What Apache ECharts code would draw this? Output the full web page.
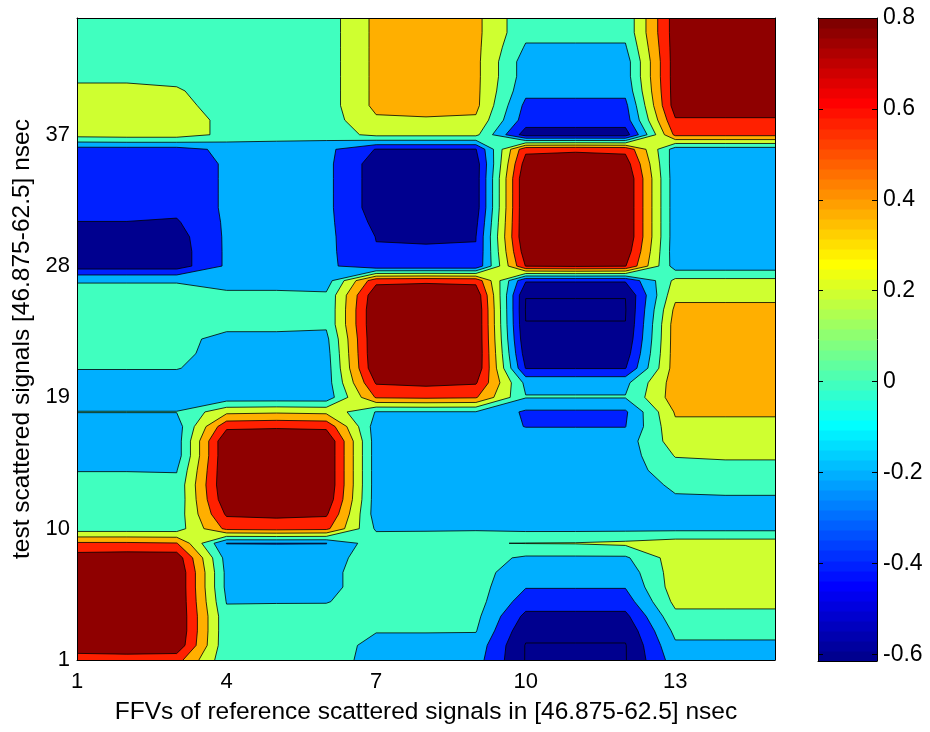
<!DOCTYPE html>
<html>
<head>
<meta charset="utf-8">
<script src="https://cdn.jsdelivr.net/npm/echarts@6/dist/echarts.min.js"></script>
<style>
  html, body { margin: 0; padding: 0; background: #ffffff; }
  #chart { width: 930px; height: 732px; }
</style>
</head>
<body>
<div id="chart"></div>
<script>
// Column index: FFVs of the reference scattered signals
const ffvIndex = [1, 2, 3, 4, 5, 6, 7, 8, 9, 10, 11, 12, 13, 14, 15];
// Row index: test scattered signals
const testIndex = [1, 2, 3, 4, 5, 6, 7, 8, 9, 10, 11, 12, 13, 14, 15, 16, 17, 18, 19, 20, 21, 22,
  23, 24, 25, 26, 27, 28, 29, 30, 31, 32, 33, 34, 35, 36, 37, 38, 39, 40, 41, 42, 43, 44, 45];

const xTickValues = [1, 4, 7, 10, 13];
const yTickValues = [1, 10, 19, 28, 37];
const contourLevels = [-0.6, -0.4, -0.2, 0, 0.2, 0.4, 0.6, 0.8];
const colorbarTicks = [-0.6, -0.4, -0.2, 0, 0.2, 0.4, 0.6, 0.8];
const colorbarRange = [-0.615, 0.8];

// Correlation values, one row per test signal (1 at the bottom), one column per FFV
const rows01to09 = [
  [0.70, 0.70, 0.68, 0.05, 0.08, 0.10, -0.08, -0.08, -0.12, -0.61, -0.61, -0.61, -0.10, -0.10, -0.10],
  [0.92, 0.95, 0.95, 0.05, 0.08, 0.10, -0.06, -0.06, -0.08, -0.61, -0.61, -0.61, -0.03, -0.03, -0.03],
  [0.95, 0.98, 0.99, 0.05, 0.08, 0.10, 0.01, 0.01, 0.01, -0.55, -0.55, -0.55, 0.05, 0.05, 0.05],
  [0.95, 0.98, 0.99, 0.05, 0.07, 0.08, 0.08, 0.08, 0.05, -0.45, -0.45, -0.45, 0.15, 0.15, 0.15],
  [0.95, 0.98, 0.99, -0.01, -0.01, -0.01, 0.10, 0.10, 0.08, -0.30, -0.30, -0.30, 0.25, 0.25, 0.25],
  [0.95, 0.98, 0.99, -0.05, -0.10, -0.05, 0.10, 0.10, 0.08, -0.19, -0.19, -0.19, 0.30, 0.30, 0.30],
  [0.95, 0.98, 0.99, -0.05, -0.10, -0.05, 0.10, 0.10, 0.08, -0.12, -0.12, -0.12, 0.30, 0.30, 0.30],
  [0.90, 0.92, 0.92, -0.08, -0.12, -0.08, 0.10, 0.10, 0.08, -0.03, -0.03, -0.03, 0.30, 0.30, 0.30],
  [0.63, 0.63, 0.61, -0.205, -0.205, -0.205, 0.12, 0.14, 0.19, 0.205, 0.21, 0.24, 0.30, 0.30, 0.30]
];
const rows10to18 = [
  [0.10, 0.10, 0.10, 0.65, 0.67, 0.65, -0.03, -0.03, -0.03, -0.05, -0.05, -0.05, -0.05, -0.05, -0.05],
  [0.08, 0.08, 0.08, 0.83, 0.85, 0.83, -0.10, -0.10, -0.10, -0.10, -0.10, -0.10, -0.08, -0.08, -0.08],
  [0.05, 0.05, 0.05, 0.95, 0.97, 0.95, -0.10, -0.10, -0.10, -0.10, -0.10, -0.10, -0.02, -0.02, -0.02],
  [0.05, 0.05, 0.05, 0.99, 0.99, 0.99, -0.10, -0.10, -0.10, -0.10, -0.10, -0.10, 0.03, 0.05, 0.05],
  [-0.005, -0.005, -0.01, 0.99, 0.99, 0.99, -0.10, -0.10, -0.10, -0.10, -0.10, -0.10, 0.12, 0.15, 0.15],
  [-0.10, -0.10, -0.10, 0.99, 0.99, 0.99, -0.10, -0.10, -0.10, -0.10, -0.10, -0.10, 0.21, 0.22, 0.22],
  [-0.10, -0.10, -0.10, 0.99, 0.99, 0.99, -0.10, -0.10, -0.10, -0.10, -0.10, -0.10, 0.30, 0.30, 0.30],
  [-0.10, -0.10, -0.10, 0.75, 0.77, 0.75, -0.10, -0.10, -0.10, -0.205, -0.205, -0.205, 0.36, 0.36, 0.36],
  [0.005, 0.005, 0.005, 0.35, 0.37, 0.35, -0.01, -0.01, -0.01, -0.23, -0.23, -0.23, 0.42, 0.42, 0.42]
];
const rows19to27 = [
  [-0.10, -0.10, -0.10, -0.12, -0.12, -0.12, 0.62, 0.64, 0.62, 0.01, 0.01, 0.01, 0.50, 0.50, 0.50],
  [-0.10, -0.10, -0.10, -0.10, -0.10, -0.10, 0.82, 0.85, 0.82, -0.05, -0.05, -0.05, 0.50, 0.50, 0.50],
  [0.01, 0.01, 0.01, -0.10, -0.10, -0.10, 0.97, 0.99, 0.97, -0.41, -0.41, -0.41, 0.50, 0.50, 0.50],
  [0.05, 0.05, 0.05, -0.08, -0.08, -0.08, 0.99, 0.99, 0.99, -0.50, -0.50, -0.50, 0.50, 0.50, 0.50],
  [0.05, 0.05, 0.05, -0.05, -0.05, -0.05, 0.99, 0.99, 0.99, -0.56, -0.56, -0.56, 0.50, 0.50, 0.50],
  [0.05, 0.05, 0.05, 0.05, 0.05, 0.03, 0.99, 0.99, 0.99, -0.597, -0.597, -0.597, 0.50, 0.50, 0.50],
  [0.05, 0.05, 0.05, 0.05, 0.05, 0.03, 0.99, 0.99, 0.99, -0.61, -0.61, -0.61, 0.45, 0.45, 0.45],
  [0.05, 0.05, 0.05, 0.05, 0.05, 0.03, 0.95, 0.97, 0.95, -0.597, -0.597, -0.597, 0.35, 0.35, 0.35],
  [-0.01, -0.01, -0.01, -0.10, -0.10, -0.10, 0.74, 0.76, 0.74, -0.38, -0.38, -0.38, 0.25, 0.25, 0.25]
];
const rows28to36 = [
  [-0.50, -0.50, -0.50, -0.17, -0.15, -0.15, -0.36, -0.36, -0.36, 0.81, 0.83, 0.81, -0.10, -0.10, -0.10],
  [-0.48, -0.48, -0.50, -0.17, -0.15, -0.15, -0.39, -0.39, -0.39, 0.92, 0.94, 0.92, -0.12, -0.12, -0.12],
  [-0.45, -0.45, -0.48, -0.17, -0.15, -0.15, -0.405, -0.41, -0.405, 0.99, 0.99, 0.99, -0.12, -0.12, -0.12],
  [-0.403, -0.403, -0.42, -0.17, -0.15, -0.15, -0.45, -0.47, -0.45, 0.99, 0.99, 0.99, -0.12, -0.12, -0.12],
  [-0.35, -0.35, -0.35, -0.17, -0.15, -0.15, -0.50, -0.52, -0.50, 0.99, 0.99, 0.99, -0.12, -0.12, -0.12],
  [-0.35, -0.35, -0.35, -0.17, -0.15, -0.15, -0.50, -0.52, -0.50, 0.99, 0.99, 0.99, -0.12, -0.12, -0.12],
  [-0.35, -0.35, -0.35, -0.17, -0.15, -0.15, -0.50, -0.52, -0.50, 0.99, 0.99, 0.99, -0.12, -0.12, -0.12],
  [-0.35, -0.35, -0.35, -0.17, -0.15, -0.15, -0.50, -0.52, -0.50, 0.90, 0.92, 0.90, -0.12, -0.12, -0.12],
  [-0.28, -0.28, -0.28, -0.15, -0.15, -0.15, -0.41, -0.41, -0.41, 0.75, 0.77, 0.75, -0.10, -0.10, -0.10]
];
const rows37to45 = [
  [0.28, 0.30, 0.30, 0.15, 0.12, 0.10, 0.25, 0.25, 0.25, -0.50, -0.50, -0.50, 0.65, 0.65, 0.65],
  [0.28, 0.30, 0.30, 0.15, 0.12, 0.10, 0.37, 0.38, 0.37, -0.30, -0.30, -0.30, 0.78, 0.78, 0.78],
  [0.28, 0.28, 0.27, 0.10, 0.10, 0.10, 0.45, 0.47, 0.45, -0.25, -0.25, -0.25, 0.90, 0.90, 0.90],
  [0.26, 0.26, 0.22, 0.10, 0.10, 0.10, 0.45, 0.47, 0.45, -0.15, -0.15, -0.15, 0.90, 0.90, 0.90],
  [0.15, 0.15, 0.15, 0.10, 0.10, 0.10, 0.45, 0.47, 0.45, -0.10, -0.10, -0.10, 0.90, 0.90, 0.90],
  [0.10, 0.10, 0.10, 0.10, 0.10, 0.10, 0.45, 0.47, 0.45, -0.10, -0.10, -0.10, 0.90, 0.90, 0.90],
  [0.10, 0.10, 0.10, 0.10, 0.10, 0.10, 0.45, 0.47, 0.45, -0.02, -0.02, -0.02, 0.90, 0.90, 0.90],
  [0.10, 0.10, 0.10, 0.10, 0.10, 0.10, 0.45, 0.47, 0.45, 0.05, 0.05, 0.05, 0.90, 0.90, 0.90],
  [0.10, 0.10, 0.10, 0.10, 0.10, 0.10, 0.45, 0.47, 0.45, 0.05, 0.05, 0.05, 0.90, 0.90, 0.90]
];

// field[row][col]
const field = [].concat(rows01to09, rows10to18, rows19to27, rows28to36, rows37to45);

// Fill colour of each band: below the first level, then at/above each level
const bandColors = ['#00008F', '#00008F', '#0020FF', '#00AFFF', '#40FFBF',
                    '#CFFF30', '#FFAF00', '#FF2000', '#8F0000'];

const FONT = '"Liberation Sans", Arial, Helvetica, sans-serif';

// MATLAB-style jet colormap with 64 entries (k = 1..64)
function jetColor(k) {
  const u = i => (i <= 16 ? i / 16 : (i <= 31 ? 1 : (48 - i) / 16));
  const r = k >= 25 ? u(k - 24) : 0;
  const g = (k >= 9 && k <= 55) ? u(k - 8) : 0;
  const b = k <= 39 ? u(k + 8) : 0;
  const h = v => Math.round(v * 255);
  return 'rgb(' + h(r) + ',' + h(g) + ',' + h(b) + ')';
}

// Pixel position of every grid node, via the axes of the chart
function nodePixels(api) {
  const pix = [];
  for (let j = 0; j < testIndex.length; j++) {
    const row = [];
    for (let i = 0; i < ffvIndex.length; i++) row.push(api.coord([ffvIndex[i], testIndex[j]]));
    pix.push(row);
  }
  return pix;
}

// Region {v >= level} inside one grid cell (linear along the edges) and the
// iso-line segments bounding it. Saddle cells are resolved with the cell-centre mean.
function cellPieces(j, i, level, pix) {
  const corners = [[j, i], [j, i + 1], [j + 1, i + 1], [j + 1, i]];
  const vals = corners.map(c => field[c[0]][c[1]]);
  const pts = corners.map(c => pix[c[0]][c[1]]);
  const high = vals.map(v => v >= level);
  const edgeCross = [null, null, null, null];
  const walk = [];
  for (let k = 0; k < 4; k++) {
    const k2 = (k + 1) % 4;
    if (high[k]) walk.push(pts[k]);
    if (high[k] !== high[k2]) {
      const t = (level - vals[k]) / (vals[k2] - vals[k]);
      const p = [pts[k][0] + t * (pts[k2][0] - pts[k][0]), pts[k][1] + t * (pts[k2][1] - pts[k][1])];
      edgeCross[k] = p;
      walk.push(p);
    }
  }
  const nCross = edgeCross.filter(p => p).length;
  const polys = [];
  const segs = [];
  if (nCross === 0) {
    if (high[0]) polys.push(walk);
    return { polys, segs };
  }
  const centre = (vals[0] + vals[1] + vals[2] + vals[3]) / 4;
  if (nCross === 4 && centre < level) {
    // high corners stay apart: one small piece around each of them
    for (let k = 0; k < 4; k++) {
      if (!high[k]) continue;
      const pin = edgeCross[(k + 3) % 4], pout = edgeCross[k];
      polys.push([pin, pts[k], pout]);
      segs.push([pin, pout]);
    }
  } else {
    polys.push(walk);
    // cut off each low corner that has crossings on both of its edges
    for (let k = 0; k < 4; k++) {
      if (high[k]) continue;
      const pin = edgeCross[(k + 3) % 4], pout = edgeCross[k];
      if (pin && pout) segs.push([pin, pout]);
    }
    if (nCross === 2 && segs.length === 0) {
      const cs = edgeCross.filter(p => p);
      segs.push([cs[0], cs[1]]);
    }
  }
  return { polys, segs };
}

function fmt(p) { return p[0].toFixed(2) + ' ' + p[1].toFixed(2); }

function getPix(params, api) {
  if (!params.context.pix) params.context.pix = nodePixels(api);
  return params.context.pix;
}

// One filled path per band
function renderBand(params, api) {
  const band = api.value(0);
  const pix = getPix(params, api);
  const nr = testIndex.length, nc = ffvIndex.length;
  let d = '';
  if (band === 0) {
    d = 'M' + fmt(pix[0][0]) + 'L' + fmt(pix[0][nc - 1]) + 'L' + fmt(pix[nr - 1][nc - 1]) +
        'L' + fmt(pix[nr - 1][0]) + 'Z';
  } else {
    const level = contourLevels[band - 1];
    for (let j = 0; j < nr - 1; j++) {
      for (let i = 0; i < nc - 1; i++) {
        for (const poly of cellPieces(j, i, level, pix).polys) {
          if (poly.length < 3) continue;
          d += 'M' + fmt(poly[0]);
          for (let k = 1; k < poly.length; k++) d += 'L' + fmt(poly[k]);
          d += 'Z';
        }
      }
    }
  }
  if (!d) return null;
  return {
    type: 'path',
    shape: { pathData: d },
    style: { fill: bandColors[band], stroke: null }
  };
}

// One stroked path of iso-lines per contour level
function renderIsoLines(params, api) {
  const level = api.value(0);
  const pix = getPix(params, api);
  const nr = testIndex.length, nc = ffvIndex.length;
  let d = '';
  for (let j = 0; j < nr - 1; j++) {
    for (let i = 0; i < nc - 1; i++) {
      for (const s of cellPieces(j, i, level, pix).segs) d += 'M' + fmt(s[0]) + 'L' + fmt(s[1]);
    }
  }
  if (!d) return null;
  return {
    type: 'path',
    shape: { pathData: d },
    style: { fill: null, stroke: '#000000', lineWidth: 0.8, lineJoin: 'round' }
  };
}

// Colour bar: 64 jet steps spanning the colour range
const colorbarSteps = [];
for (let k = 1; k <= 64; k++) {
  const lo = colorbarRange[0] + (k - 1) * (colorbarRange[1] - colorbarRange[0]) / 64;
  const hi = colorbarRange[0] + k * (colorbarRange[1] - colorbarRange[0]) / 64;
  colorbarSteps.push([k, lo, hi]);
}
function renderColorbar(params, api) {
  const k = api.value(0);
  const p0 = api.coord([0, api.value(1)]);
  const p1 = api.coord([1, api.value(2)]);
  const yTop = Math.round(p1[1]), yBot = Math.round(p0[1]);
  return {
    type: 'rect',
    shape: { x: p0[0], y: yTop, width: p1[0] - p0[0], height: yBot - yTop + 0.6 },
    style: { fill: jetColor(k), stroke: null }
  };
}

const lineStyle = { color: '#000000', width: 1 };
const frameAxis = (extra) => Object.assign({
  type: 'value',
  axisLine: { show: true, onZero: false, lineStyle: lineStyle },
  axisTick: { show: false },
  axisLabel: { show: false },
  splitLine: { show: false },
  z: 5
}, extra);

const chart = echarts.init(document.getElementById('chart'), null, { renderer: 'canvas' });
chart.setOption({
  animation: false,
  backgroundColor: '#ffffff',
  grid: [
    { left: 77, top: 18, width: 698, height: 642 },
    { left: 818, top: 18, width: 59, height: 643 }
  ],
  xAxis: [
    frameAxis({
      gridIndex: 0, min: 1, max: 15, position: 'bottom',
      axisLabel: { show: true, customValues: xTickValues, fontSize: 22, color: '#000', margin: 11, fontFamily: FONT },
      name: 'FFVs of reference scattered signals in [46.875-62.5] nsec',
      nameLocation: 'middle', nameGap: 40,
      nameTextStyle: { fontSize: 24.5, color: '#000', fontFamily: FONT }
    }),
    frameAxis({ gridIndex: 0, min: 1, max: 15, position: 'top' }),
    frameAxis({ gridIndex: 1, min: 0, max: 1, position: 'bottom' }),
    frameAxis({ gridIndex: 1, min: 0, max: 1, position: 'top' })
  ],
  yAxis: [
    frameAxis({
      gridIndex: 0, min: 1, max: 45, position: 'left',
      axisLabel: { show: true, customValues: yTickValues, fontSize: 22, color: '#000', margin: 7, fontFamily: FONT },
      name: 'test scattered signals [46.875-62.5] nsec',
      nameLocation: 'middle', nameGap: 38,
      nameTextStyle: { fontSize: 24.5, color: '#000', fontFamily: FONT }
    }),
    frameAxis({ gridIndex: 0, min: 1, max: 45, position: 'right' }),
    frameAxis({
      gridIndex: 1, min: colorbarRange[0], max: colorbarRange[1], position: 'right',
      axisTick: { show: true, inside: true, length: 5, customValues: colorbarTicks, lineStyle: lineStyle },
      axisLabel: { show: true, customValues: colorbarTicks, fontSize: 23, color: '#000', margin: 6, fontFamily: FONT,
                   formatter: v => String(Math.round(v * 10) / 10) }
    }),
    frameAxis({
      gridIndex: 1, min: colorbarRange[0], max: colorbarRange[1], position: 'left',
      axisTick: { show: true, inside: true, length: 5, customValues: colorbarTicks, lineStyle: lineStyle }
    })
  ],
  series: [
    {
      type: 'custom', name: 'bands', xAxisIndex: 0, yAxisIndex: 0, z: 1, silent: true,
      data: bandColors.map((c, b) => [b]),
      renderItem: renderBand
    },
    {
      type: 'custom', name: 'isolines', xAxisIndex: 0, yAxisIndex: 0, z: 2, silent: true,
      data: contourLevels.map(L => [L]),
      renderItem: renderIsoLines
    },
    {
      type: 'custom', name: 'colorbar', xAxisIndex: 2, yAxisIndex: 2, z: 1, silent: true,
      data: colorbarSteps,
      renderItem: renderColorbar
    }
  ]
});
</script>
</body>
</html>
